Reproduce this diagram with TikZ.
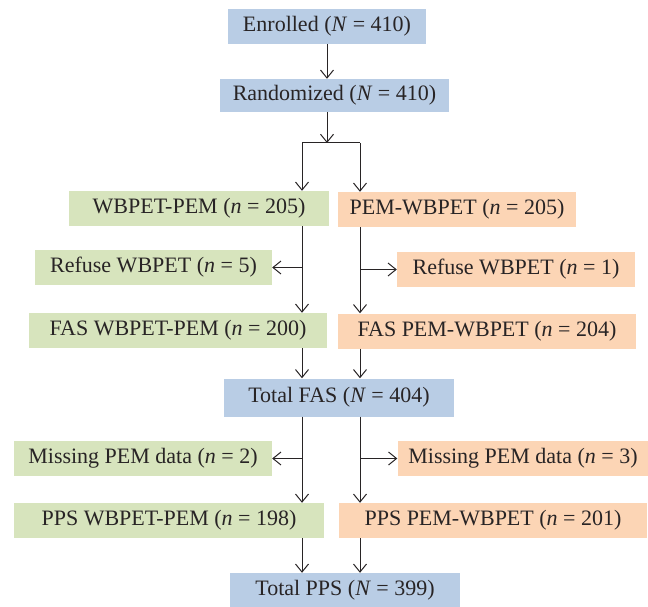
\documentclass[tikz,border=0pt]{standalone}
\usepackage{fontspec}
\setmainfont{Liberation Serif}
\usepackage{xcolor}
\usetikzlibrary{arrows.meta}
\usetikzlibrary{math}
\definecolor{myblue}{RGB}{185, 205, 229}
\definecolor{mygreen}{RGB}{215, 228, 189}
\definecolor{myorange}{RGB}{252, 213, 181}
\definecolor{mygray}{RGB}{40, 36, 37}

\begin{document}
\begin{tikzpicture}[x=1pt, y=-1pt,
box/.style={minimum height=35, inner sep=0pt, text=mygray, font=\fontsize{22}{26}\selectfont},
total/.style={box, fill=myblue},
armA/.style={box, fill=mygreen},
armB/.style={box, fill=myorange},
flow/.style={draw=mygray, line width=1pt, -{Straight Barb[length=8pt, width=13pt]}}]
\tikzmath{
\xL=302;
\xR=360;
\yF=143;
}
\useasboundingbox (0,0) rectangle (648,607);
\coordinate (L) at (\xL,0);
\coordinate (R) at (\xR,0);
\coordinate (F) at (327,\yF);

\node[total, minimum width=198] (enr) at (327,26.5) {Enrolled (\textit{N} = 410)};
\node[total, minimum width=229, minimum height=33] (rand) at (334.5,95.5) {Randomized (\textit{N} = 410)};

\node[armA, minimum width=260] (wp) at (199,208.5) {WBPET-PEM (\textit{n} = 205)};
\node[armB, minimum width=238] (pw) at (457,209.5) {PEM-WBPET (\textit{n} = 205)};
\node[armA, minimum width=237] (ref1) at (153.5,267.5) {Refuse WBPET (\textit{n} = 5)};
\node[armB, minimum width=238] (ref2) at (516,269.5) {Refuse WBPET (\textit{n} = 1)};
\node[armA, minimum width=298] (fas1) at (178,330.5) {FAS WBPET-PEM (\textit{n} = 200)};
\node[armB, minimum width=298] (fas2) at (487,331) {FAS PEM-WBPET (\textit{n} = 204)};

\node[total, minimum width=230, minimum height=38] (tfas) at (339,397.5) {Total FAS (\textit{N} = 404)};

\node[armA, minimum width=258] (miss1) at (143,458.5) {Missing PEM data (\textit{n} = 2)};
\node[armB, minimum width=251] (miss2) at (523,458.5) {Missing PEM data (\textit{n} = 3)};
\node[armA, minimum width=310] (pps1) at (169,520.5) {PPS WBPET-PEM (\textit{n} = 198)};
\node[armB, minimum width=308] (pps2) at (493,520.5) {PPS PEM-WBPET (\textit{n} = 201)};

\node[total, minimum width=230, minimum height=34] (tpps) at (345,590) {Total PPS (\textit{N} = 399)};

\draw[flow] (enr.south) -- (enr.south |- rand.north);
\draw[flow] (enr.south |- rand.south) -- (F);
\draw[draw=mygray, line width=1pt] (L |- F) -- (R |- F);
\draw[flow] (L |- F) -- (L |- wp.north);
\draw[flow] (R |- F) -- (R |- pw.north);

\draw[flow] (L |- wp.south) -- (L |- fas1.north);
\draw[flow] (R |- pw.south) -- (R |- fas2.north);
\draw[flow] (L |- ref1.east) -- (ref1.east);
\draw[flow] (R |- ref2.west) -- (ref2.west);

\draw[flow] (L |- fas1.south) -- (L |- tfas.north);
\draw[flow] (R |- fas2.south) -- (R |- tfas.north);

\draw[flow] (L |- tfas.south) -- (L |- pps1.north);
\draw[flow] (R |- tfas.south) -- (R |- pps2.north);
\draw[flow] (L |- miss1.east) -- (miss1.east);
\draw[flow] (R |- miss2.west) -- (miss2.west);

\draw[flow] (L |- pps1.south) -- (L |- tpps.north);
\draw[flow] (R |- pps2.south) -- (R |- tpps.north);
\end{tikzpicture}
\end{document}
